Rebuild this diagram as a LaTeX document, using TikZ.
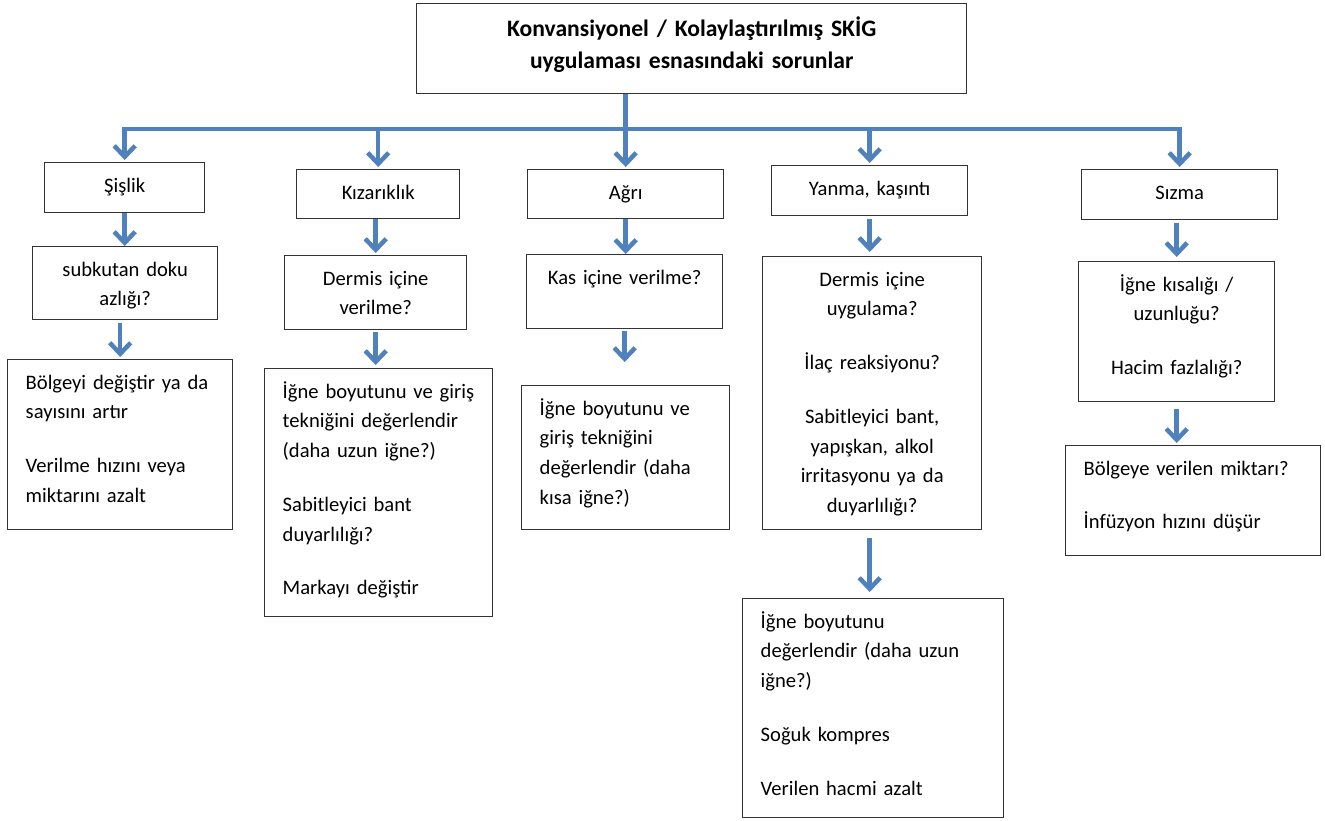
\documentclass[tikz,border=0pt]{standalone}
\usepackage{fontspec}
\setmainfont{Carlito}
\usepackage{xcolor}
\usepackage{tikz}
\usetikzlibrary{arrows.meta}
\definecolor{arrowblue}{RGB}{79,129,189}

\begin{document}
\begin{tikzpicture}[x=1pt, y=-1pt,
    block/.style={rectangle, draw=black!80, line width=1.4pt, anchor=north west, inner xsep=18pt, inner ysep=0pt, text height=29.5pt, align=left, font=\fontsize{20.6}{29.7}\selectfont},
    cblock/.style={block, align=center},
    arrow/.style={-{Straight Barb[length=11pt,width=21pt]}, line width=4.5pt, draw=arrowblue}]

    \useasboundingbox (0,0) rectangle (1325,820);

    \node[cblock, text width=514pt, text height=33pt, text depth=57pt, font=\bfseries\fontsize{23.6}{32}\selectfont] (title) at (416,3) {Konvansiyonel / Kolaylaştırılmış SKİG\hspace*{38pt}\\ uygulaması esnasındaki sorunlar\hspace*{38pt}};

    \node[cblock, text width=124pt, text depth=20.5pt] (sislik) at (44,162) {Şişlik};
    \node[cblock, text width=127pt, text depth=19.5pt] (kizariklik) at (296,169) {Kızarıklık};
    \node[cblock, text width=160pt, text depth=19.5pt] (agri) at (527,169) {Ağrı};
    \node[cblock, text width=160pt, text depth=20.5pt] (yanma) at (771,165) {Yanma, kaşıntı};
    \node[cblock, text width=160pt, text depth=20.5pt] (sizma) at (1081,169) {Sızma};

    \node[cblock, text width=149pt, text depth=43.5pt] (doku) at (32,246) {subkutan doku\\ azlığı?};
    \node[cblock, text width=146pt, text depth=44.5pt] (dermis) at (284,255) {Dermis içine\\ verilme?};
    \node[cblock, text width=160pt, text depth=44.5pt] (kas) at (526,254) {Kas içine verilme?};
    \node[cblock, text width=183pt, text depth=243.5pt] (uygulama) at (762,256) {Dermis içine\\ uygulama?\\[24pt] İlaç reaksiyonu?\\[24pt] Sabitleyici bant,\\ yapışkan, alkol\\ irritasyonu ya da\\ duyarlılığı?};
    \node[cblock, text width=160pt, text depth=110.5pt] (kisalik) at (1078,261) {İğne kısalığı /\\ uzunluğu?\\[24pt] Hacim fazlalığı?};

    \node[block, text width=189pt, text depth=140.5pt] (bolge) at (7,359) {Bölgeyi değiştir ya da\\ sayısını artır\\[24pt] Verilme hızını veya\\ miktarını azalt};
    \node[block, text width=192pt, text depth=218.5pt] (boyut) at (264,368) {İğne boyutunu ve giriş\\ tekniğini değerlendir\\ (daha uzun iğne?)\\[24pt] Sabitleyici bant\\ duyarlılığı?\\[24pt] Markayı değiştir};
    \node[block, text width=172pt, text depth=114.5pt] (teknik) at (521,385) {İğne boyutunu ve\\ giriş tekniğini\\ değerlendir (daha\\ kısa iğne?)};
    \node[block, text width=225pt, text depth=189.5pt] (kompres) at (742,598) {İğne boyutunu\\ değerlendir (daha uzun\\ iğne?)\\[24pt] Soğuk kompres\\[24pt] Verilen hacmi azalt};
    \node[block, text width=219pt, text depth=80.5pt] (infuzyon) at (1065,445) {Bölgeye verilen miktarı?\\[24pt] İnfüzyon hızını düşür};

    \coordinate (bus) at (625,129);
    \draw[arrowblue, line width=4.5pt, line cap=rect] (sislik.north |- bus) -- (sizma.north |- bus);
    \draw[arrow, shorten >=2pt] (agri.north |- title.south) -- (agri.north);
    \foreach \n in {sislik,kizariklik,yanma,sizma}
        \draw[arrow, shorten >=2pt] (\n.north |- bus) -- (\n.north);

    \draw[arrow] (sislik.south) -- (sislik.south |- doku.north);
    \draw[arrow, shorten <=3pt, shorten >=2pt] (bolge.north |- doku.south) -- (bolge.north);
    \draw[arrow, shorten >=2pt] (dermis.north |- kizariklik.south) -- (dermis.north);
    \draw[arrow, shorten <=2pt, shorten >=3pt] (dermis.south) -- (dermis.south |- boyut.north);
    \draw[arrow] (agri.south) -- (agri.south |- kas.north);
    \draw[arrow, shorten <=2pt, shorten >=23pt] (kas.south) -- (kas.south |- teknik.north);
    \draw[arrow, shorten <=3pt, shorten >=4pt] (yanma.south) -- (yanma.south |- uygulama.north);
    \draw[arrow, shorten <=8pt, shorten >=6pt] (yanma.south |- uygulama.south) -- (yanma.south |- kompres.north);
    \draw[arrow, shorten <=3pt, shorten >=4pt] (kisalik.north |- sizma.south) -- (kisalik.north);
    \draw[arrow, shorten <=7pt, shorten >=2pt] (kisalik.south) -- (kisalik.south |- infuzyon.north);
\end{tikzpicture}
\end{document}
